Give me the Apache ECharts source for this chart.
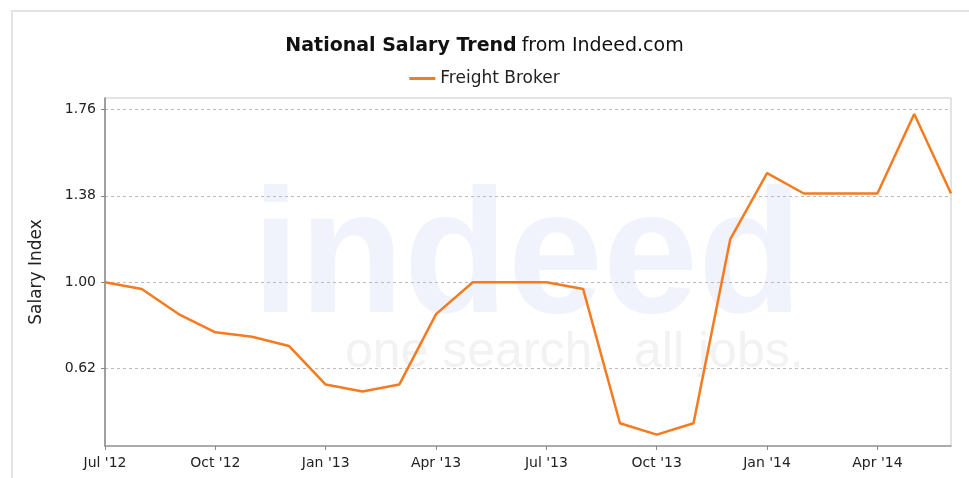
<!DOCTYPE html>
<html>
<head>
<meta charset="utf-8">
<script src="https://cdn.jsdelivr.net/npm/echarts@6/dist/echarts.min.js"></script>
<style>
  html, body { margin: 0; padding: 0; background: #fff; }
  #chart { width: 969px; height: 478px; }
</style>
</head>
<body>
<div id="chart"></div>
<script>
// months Jul '12 .. Jun '14
const months = ["Jul '12","Aug '12","Sep '12","Oct '12","Nov '12","Dec '12",
  "Jan '13","Feb '13","Mar '13","Apr '13","May '13","Jun '13",
  "Jul '13","Aug '13","Sep '13","Oct '13","Nov '13","Dec '13",
  "Jan '14","Feb '14","Mar '14","Apr '14","May '14","Jun '14"];
const freightBroker = [1.00, 0.97, 0.86, 0.78, 0.76, 0.72,
  0.55, 0.52, 0.55, 0.86, 1.00, 1.00,
  1.00, 0.97, 0.38, 0.33, 0.38, 1.19,
  1.48, 1.39, 1.39, 1.39, 1.74, 1.39];
const yTicks = [0.62, 1.00, 1.38, 1.76];

let chart = echarts.init(document.getElementById('chart'));

let option = {
  animation: false,
  title: {
    text: '{b|National Salary Trend} {n|from Indeed.com}',
    left: 'center',
    top: 32,
    textStyle: {
      rich: {
        b: { fontFamily: 'DejaVu Sans', fontWeight: 'bold', fontSize: 19, color: '#111' },
        n: { fontFamily: 'DejaVu Sans', fontWeight: 'normal', fontSize: 19, color: '#111' }
      }
    }
  },
  legend: {
    top: 65,
    left: 'center',
    itemWidth: 26,
    itemHeight: 3,
    icon: 'rect',
    itemGap: 7,
    textStyle: { fontFamily: 'DejaVu Sans', fontSize: 17, color: '#222' },
    data: ['Freight Broker']
  },
  graphic: [
    {
      type: 'rect', z: -10, silent: true,
      shape: { x: 12, y: 11, width: 980, height: 500 },
      style: { fill: '#fff', stroke: '#e4e4e4', lineWidth: 2 }
    },
    {
      type: 'text', z: -5, silent: true,
      left: 252, top: 175, scaleX: 0.97,
      style: { text: 'indeed', fontFamily: 'Liberation Sans', fontWeight: 'bold', fontSize: 176, fill: '#f0f3fb' }
    },
    {
      type: 'text', z: -5, silent: true,
      left: 345, top: 328,
      style: { text: 'one search.  all jobs.', fontFamily: 'Liberation Sans', fontSize: 50, fill: '#f2f2f2' }
    }
  ],
  grid: {
    left: 105, right: 18, top: 98, bottom: 32,
    show: true, borderColor: '#c8c8c8', borderWidth: 1
  },
  xAxis: {
    type: 'category',
    data: months,
    boundaryGap: false,
    axisLine: { lineStyle: { color: '#999', width: 1.5 } },
    axisTick: { interval: 2, length: 4, lineStyle: { color: '#888' } },
    axisLabel: { interval: 2, color: '#222', fontFamily: 'DejaVu Sans', fontSize: 14, margin: 10 },
    splitLine: { show: false }
  },
  yAxis: {
    type: 'value',
    min: 0.28,
    max: 1.81,
    name: 'Salary Index',
    nameLocation: 'middle',
    nameGap: 60,
    nameTextStyle: { fontFamily: 'DejaVu Sans', fontSize: 17, color: '#222' },
    axisLine: { show: true, lineStyle: { color: '#888', width: 1.5 } },
    axisTick: { show: true, customValues: yTicks, length: 4, lineStyle: { color: '#888' } },
    axisLabel: {
      customValues: yTicks,
      color: '#222', fontFamily: 'DejaVu Sans', fontSize: 14, margin: 9,
      formatter: v => v.toFixed(2)
    },
    splitLine: { show: true, lineStyle: { color: '#bbb', type: [3, 3], width: 1 } }
  },
  series: [
    {
      name: 'Freight Broker',
      type: 'line',
      data: freightBroker,
      symbol: 'none',
      color: '#f47b20',
      lineStyle: { width: 2.5, color: '#f47b20' }
    }
  ]
};
chart.setOption(option, true);
window.addEventListener('resize', function () {
  chart.resize();
});
</script>
</body>
</html>
